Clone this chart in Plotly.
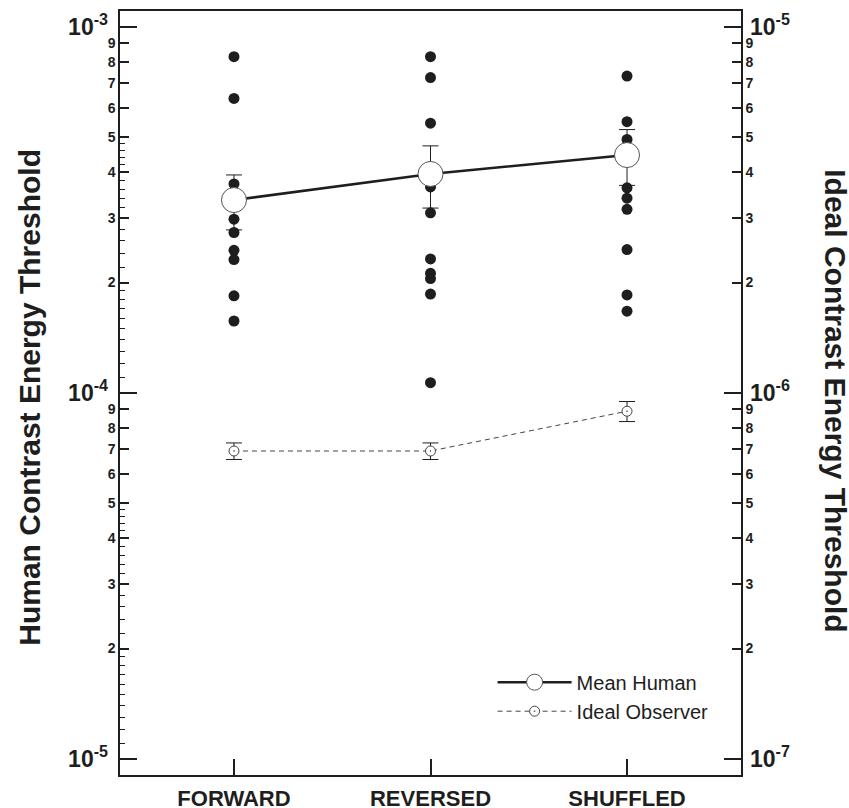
import plotly.graph_objects as go

# ---------------- data ----------------
conditions = ["FORWARD", "REVERSED", "SHUFFLED"]

forward_obs = [8.28e-4, 6.37e-4, 3.72e-4, 2.98e-4, 2.74e-4, 2.45e-4, 2.31e-4, 1.84e-4, 1.57e-4]
reversed_obs = [8.28e-4, 7.26e-4, 5.45e-4, 3.65e-4, 3.10e-4, 2.32e-4, 2.12e-4, 2.05e-4, 1.86e-4, 1.065e-4]
shuffled_obs = [7.33e-4, 5.50e-4, 4.92e-4, 3.63e-4, 3.40e-4, 3.17e-4, 2.46e-4, 1.85e-4, 1.67e-4]

mean_human = [3.36e-4, 3.96e-4, 4.46e-4]
mean_human_se = [0.575e-4, 0.765e-4, 0.775e-4]

ideal_observer = [6.93e-7, 6.93e-7, 8.90e-7]
ideal_observer_se = [0.36e-7, 0.36e-7, 0.56e-7]

digit_labels = ["2", "3", "4", "5", "6", "7", "8", "9"]
left_decades = [-5, -4, -3]
right_decades = [-7, -6, -5]

# ---------------- helpers ----------------
FONT = "Liberation Sans"
INK = "#1e1e1e"

obs_x, obs_y = [], []
for i, vals in enumerate([forward_obs, reversed_obs, shuffled_obs]):
    obs_x += [i] * len(vals)
    obs_y += vals
xpos = list(range(len(conditions)))


def digit_ticks(decades):
    vals, txt = [], []
    for k in decades:
        for d in digit_labels:
            vals.append(int(d) * 10.0 ** k)
            txt.append(d)
    return vals, txt


def minor_ticks(decades):
    vals = []
    for k in decades:
        for m in [1.1, 1.2, 1.3, 1.4, 1.5, 1.6, 1.7, 1.8, 1.9,
                  2.2, 2.4, 2.6, 2.8, 3.2, 3.4, 3.6, 3.8, 4.2, 4.4, 4.6, 4.8]:
            vals.append(m * 10.0 ** k)
    return vals


left_dv, left_dt = digit_ticks(left_decades[:-1])
right_dv, right_dt = digit_ticks(right_decades[:-1])

fig = go.Figure()

fig.add_trace(go.Scatter(
    x=obs_x, y=obs_y, mode="markers", showlegend=False,
    marker=dict(size=11, color=INK, line=dict(width=0)),
    hoverinfo="skip"))

fig.add_trace(go.Scatter(
    x=xpos, y=mean_human, mode="lines+markers", name="Mean Human",
    line=dict(color=INK, width=2.6),
    marker=dict(size=25, color="white", line=dict(color="#555", width=1)),
    error_y=dict(type="data", array=mean_human_se, color=INK, thickness=1, width=8)))

fig.add_trace(go.Scatter(
    x=xpos, y=ideal_observer, mode="lines+markers", name="Ideal Observer",
    yaxis="y2",
    line=dict(color="#444", width=1, dash="5px,4px"),
    marker=dict(size=10, symbol="circle-dot", color="white", line=dict(color="#444", width=1)),
    error_y=dict(type="data", array=ideal_observer_se, color=INK, thickness=1, width=8)))

# carrier traces so the decade-tick overlay axes get drawn
fig.add_trace(go.Scatter(x=[None], y=[None], yaxis="y3", showlegend=False, hoverinfo="skip"))
fig.add_trace(go.Scatter(x=[None], y=[None], yaxis="y4", showlegend=False, hoverinfo="skip"))

LOG_L = [-5.0445, -2.9571]
LOG_R = [LOG_L[0] - 2, LOG_L[1] - 2]

common = dict(showgrid=False, zeroline=False, type="log", ticks="inside",
              tickcolor=INK, automargin=False)

fig.update_layout(
    width=849, height=808,
    margin=dict(l=120, r=108, t=11, b=33),
    plot_bgcolor="white", paper_bgcolor="white",
    font=dict(family=FONT, color=INK),
    xaxis=dict(range=[-0.58, 2.58], tickvals=xpos, ticktext=conditions,
               ticks="inside", ticklen=16, tickwidth=1.5, tickcolor=INK,
               showline=True, mirror=True, linecolor=INK, linewidth=1.5,
               showgrid=False, zeroline=False, automargin=False,
               ticklabelstandoff=3,
               tickfont=dict(family=FONT, size=22, weight="bold", color=INK)),
    yaxis=dict(range=LOG_L, tickvals=left_dv, ticktext=left_dt, ticklen=9, tickwidth=1.8,
               showline=True, linecolor=INK, linewidth=1.5,
               tickfont=dict(family=FONT, size=14, weight="bold", color=INK),
               minor=dict(tickmode="array", tickvals=minor_ticks(left_decades[:-1]),
                          ticks="inside", ticklen=5, tickwidth=1, tickcolor=INK),
               **common),
    yaxis3=dict(range=LOG_L, overlaying="y", side="left", anchor="x",
                tickvals=[10.0 ** k for k in left_decades],
                ticktext=["10<sup>%d</sup>" % k for k in left_decades],
                ticklen=17, tickwidth=2.2, showline=False, ticklabelstandoff=11,
                tickfont=dict(family=FONT, size=23, weight="bold", color=INK),
                **common),
    yaxis2=dict(range=LOG_R, overlaying="y", side="right", anchor="x",
                tickvals=right_dv, ticktext=right_dt, ticklen=9, tickwidth=1.8,
                showline=True, linecolor=INK, linewidth=1.5,
                tickfont=dict(family=FONT, size=14, weight="bold", color=INK),
                **common),
    yaxis4=dict(range=LOG_R, overlaying="y", side="right", anchor="x",
                tickvals=[10.0 ** k for k in right_decades],
                ticktext=["10<sup>%d</sup>" % k for k in right_decades],
                ticklen=17, tickwidth=2.2, showline=False, ticklabelstandoff=8,
                tickfont=dict(family=FONT, size=23, weight="bold", color=INK),
                **common),
    legend=dict(x=0.6, y=0.147, xanchor="left", yanchor="top",
                bgcolor="rgba(0,0,0,0)", itemwidth=74, tracegroupgap=0,
                font=dict(family=FONT, size=20, color=INK)),
    annotations=[
        dict(text="Human Contrast Energy Threshold", xref="paper", yref="paper",
             x=-0.145, y=0.495, xanchor="center", yanchor="middle", textangle=-90,
             showarrow=False, font=dict(family=FONT, size=30, weight="bold", color=INK)),
        dict(text="Ideal Contrast Energy Threshold", xref="paper", yref="paper",
             x=1.152, y=0.49, xanchor="center", yanchor="middle", textangle=90,
             showarrow=False, font=dict(family=FONT, size=30, weight="bold", color=INK)),
    ],
)

fig.write_html("out.html")
